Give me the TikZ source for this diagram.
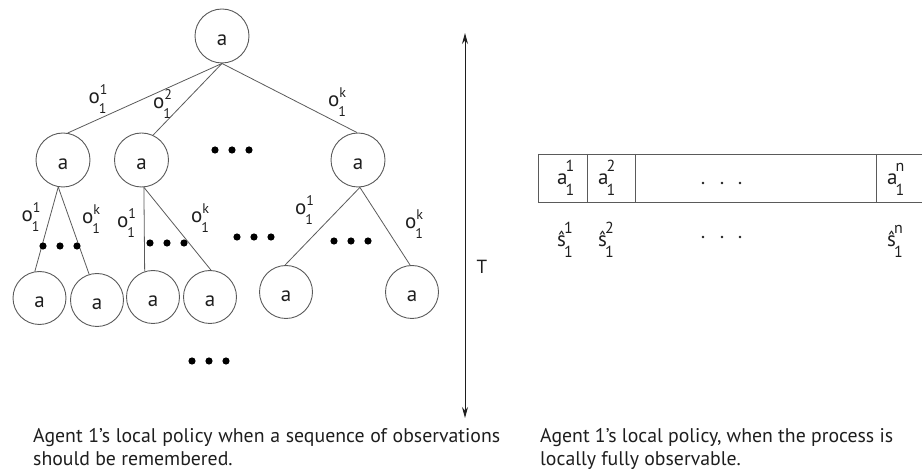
\documentclass[tikz,border=0pt]{standalone}
\usepackage{fontspec}
\setmainfont{PT Sans}
\usetikzlibrary{arrows.meta}
\definecolor{linec}{HTML}{5A5A5A}
\definecolor{txtc}{HTML}{1E1E1E}
\newcommand\scr{\fontsize{14}{14}\selectfont}
\newcommand\tscr{\fontsize{16}{16}\selectfont}
\newcommand\ob[2]{o\rlap{\raisebox{9pt}{\scr #1}}\kern-1pt\raisebox{-10pt}{\scr #2}}
\newcommand\tb[3]{#1\kern-2pt\rlap{\raisebox{13pt}{\tscr #2}}\raisebox{-11pt}{\tscr #3}}
\newlength\capwr
\begin{document}
\settowidth\capwr{\fontsize{10}{12}\selectfont Agent 1’s local policy, when the process is}%
\pgfmathsetmacro\capfs{3530/\capwr}%
\begin{tikzpicture}[x=1pt,y=-1pt,
  every node/.style={text=txtc},
  st/.style={circle, draw=linec, line width=0.9pt, minimum size=54pt, inner sep=0pt,
    text height=20pt, text depth=0pt, font=\fontsize{21}{21}\selectfont},
  lf/.style={st, minimum size=53pt},
  conn/.style={draw=linec, line width=0.8pt},
  lbl/.style={inner sep=0pt, font=\fontsize{21}{21}\selectfont},
  tbl/.style={inner sep=0pt, anchor=base west, font=\fontsize{21}{21}\selectfont},
  captxt/.style={inner sep=0pt, anchor=base west, font=\fontsize{\capfs}{23}\selectfont},
  tline/.style={draw=linec, line width=0.9pt},
  bigdot/.style={fill=black},
  smalldot/.style={fill=txtc}]
\useasboundingbox (0,0) rectangle (922,470);

% tree nodes
\node[st] (R) at (222,36) {a};
\node[st] (A) at (63,160) {a};
\node[st] (B) at (141.5,160) {a};
\node[st] (C) at (358,160) {a};
\node[lf] (L1) at (39.5,298) {a};
\node[lf] (L2) at (97,300) {a};
\node[lf] (L3) at (153,297) {a};
\node[lf] (L4) at (210,297) {a};
\node[lf] (L5) at (286,292) {a};
\node[lf] (L6) at (412,292) {a};

% edges
\draw[conn] (R.south) -- (A.80);
\draw[conn] (R.south) -- (B.65);
\draw[conn] (R.south) -- (C.92);
\draw[conn] (A.-100) -- (L1.100);
\draw[conn] (A.-100) -- (L2.107);
\draw[conn] (B.-85) -- (L3.108);
\draw[conn] (B.-85) -- (L4.88);
\draw[conn] (C.-86) -- (L5.92);
\draw[conn] (C.-86) -- (L6.94);

% edge labels
\node[lbl] (e1) at (97.5,99) {\ob{1}{1}};
\node[lbl] (e2) at (162,104) {\ob{2}{1}};
\node[lbl] (e3) at (337,102) {\ob{k}{1}};
\node[lbl] (e4) at (30.5,217) {\ob{1}{1}};
\node[lbl] (e5) at (91,219) {\ob{k}{1}};
\node[lbl] (e6) at (126,223) {\ob{1}{1}};
\node[lbl] (e7) at (200,218) {\ob{k}{1}};
\node[lbl] (e8) at (304,210) {\ob{1}{1}};
\node[lbl] (e9) at (414,224) {\ob{k}{1}};

% ellipsis dots
\foreach \cx/\cy in {232/150, 60/246, 167/243, 254/237, 351/241, 209/361}{
  \foreach \d in {-17,0,17}{
    \fill[bigdot] (\cx+\d,\cy) circle (3.6pt);
  }
}

% time arrow
\coordinate (ttop) at (465,33);
\coordinate (tbot) at (465,418);
\draw[line width=1pt, draw=txtc, {Stealth[length=11pt,width=6pt]}-{Stealth[length=11pt,width=6pt]}] (ttop) -- (tbot);
\node[inner sep=0pt, font=\fontsize{19}{19}\selectfont] (T) at (482,267) {T};

% table
\draw[tline] (538,154) -- (924,154);
\draw[tline] (538,202) -- (924,202);
\draw[tline] (538,154) -- (538,202);
\draw[tline] (587,154) -- (587,202);
\draw[tline] (635,154) -- (635,202);
\draw[tline] (876,154) -- (876,202);

\node[tbl] (a1) at (557,185) {\tb{a}{1}{1}};
\node[tbl] (a2) at (598,185) {\tb{a}{2}{1}};
\node[tbl] (an) at (887,185) {\tb{a}{n}{1}};
\node[tbl] (s1) at (557,247) {\tb{ŝ}{1}{1}};
\node[tbl] (s2) at (598,247) {\tb{ŝ}{2}{1}};
\node[tbl] (sn) at (887,247) {\tb{ŝ}{n}{1}};
\foreach \x in {703,722,740}{
  \fill[smalldot] (\x,183) circle (1.3pt);
  \fill[smalldot] (\x,237) circle (1.3pt);
}

% captions
\node[captxt] (c1) at (33,443) {\begin{tabular}[t]{@{}l@{}}\makebox[467pt][s]{Agent 1’s local policy when a sequence of observations}\\should be remembered.\end{tabular}};
\node[captxt] (c2) at (540,443) {\begin{tabular}[t]{@{}l@{}}Agent 1’s local policy, when the process is\\locally fully observable.\end{tabular}};
\end{tikzpicture}
\end{document}
